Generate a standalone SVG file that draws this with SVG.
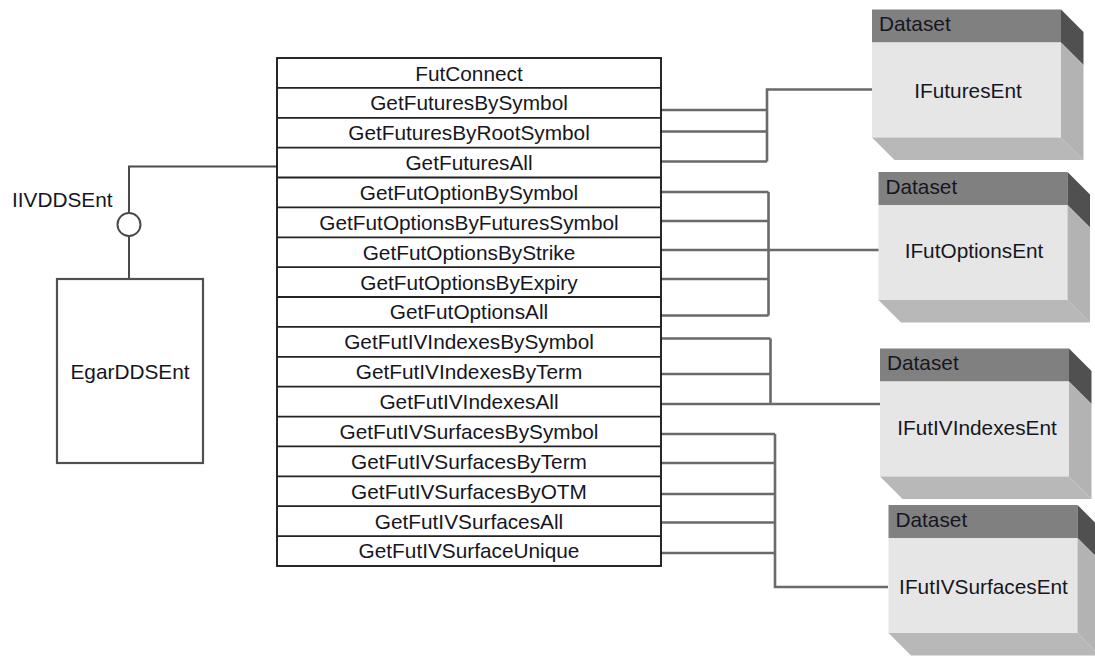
<svg xmlns="http://www.w3.org/2000/svg" width="1095" height="657" viewBox="0 0 1095 657">
<style>
text{font-family:"Liberation Sans",Arial,sans-serif;font-size:20.8px;fill:#161622}
.m{text-anchor:middle}
.tbl{fill:#fff;stroke:#111;stroke-width:1.8}
.sep{stroke:#222;stroke-width:1.8}
.con{fill:none;stroke:#6a6a6a;stroke-width:2.6}
.ifc{fill:none;stroke:#4a4a4a;stroke-width:2}
.box{fill:#fff;stroke:#505050;stroke-width:2.2}
.hdr{fill:#808080}
.body{fill:#e6e6e6}
.sd{fill:#505050}
.sl{fill:#b3b3b3}
.bt{fill:#b8b8b8}
</style>
<defs>
<g id="ds">
<rect class="hdr" x="0" y="0" width="189" height="33"/>
<rect class="body" x="0" y="33" width="189" height="95"/>
<polygon class="sd" points="189,0 211.5,22.5 211.5,55.5 189,33"/>
<polygon class="sl" points="189,33 211.5,55.5 211.5,150.5 189,128"/>
<polygon class="bt" points="0,128 189,128 211.5,150.5 22.5,150.5"/>
<text x="7" y="21.5">Dataset</text>
</g>
</defs>
<g id="connectors">
<path class="ifc" d="M277,166.5 H129 V212.5 M129,236 V279"/>
<circle class="ifc" cx="129" cy="224.5" r="11.5" fill="#fff"/>
<path class="con" d="M661,110 H767 M661,131.5 H767 M661,161.5 H767 M767,161.5 V89.5 H873"/>
<path class="con" d="M661,192 H768.5 M661,221 H768.5 M661,250 H768.5 M661,279 H768.5 M661,315.5 H768.5 M768.5,192 V315.5 M768.5,250 H888"/>
<path class="con" d="M661,338.5 H770.5 M661,374 H770.5 M661,404 H770.5 M770.5,338.5 V404 H881.5"/>
<path class="con" d="M661,434 H775 M661,463 H775 M661,494 H775 M661,522.5 H775 M661,553 H775 M775,434 V587 H888"/>
</g>
<g id="iivddsent-label">
<text x="12" y="206.5">IIVDDSEnt</text>
</g>
<g id="egarddsent">
<rect class="box" x="57" y="279" width="146" height="184"/>
<text class="m" x="130" y="379">EgarDDSEnt</text>
</g>
<g id="methods">
<rect class="tbl" x="277" y="58" width="384" height="508"/>
<path class="sep" d="M277,87.9H661M277,117.8H661M277,147.6H661M277,177.5H661M277,207.4H661M277,237.3H661M277,267.2H661M277,297H661M277,326.9H661M277,356.8H661M277,386.7H661M277,416.6H661M277,446.4H661M277,476.3H661M277,506.2H661M277,536.1H661"/>
<text class="m" x="469" y="80.5">FutConnect</text>
<text class="m" x="469" y="110.3">GetFuturesBySymbol</text>
<text class="m" x="469" y="140.2">GetFuturesByRootSymbol</text>
<text class="m" x="469" y="170">GetFuturesAll</text>
<text class="m" x="469" y="199.9">GetFutOptionBySymbol</text>
<text class="m" x="469" y="229.8">GetFutOptionsByFuturesSymbol</text>
<text class="m" x="469" y="259.7">GetFutOptionsByStrike</text>
<text class="m" x="469" y="289.6">GetFutOptionsByExpiry</text>
<text class="m" x="469" y="319.4">GetFutOptionsAll</text>
<text class="m" x="469" y="349.3">GetFutIVIndexesBySymbol</text>
<text class="m" x="469" y="379.2">GetFutIVIndexesByTerm</text>
<text class="m" x="469" y="409">GetFutIVIndexesAll</text>
<text class="m" x="469" y="438.9">GetFutIVSurfacesBySymbol</text>
<text class="m" x="469" y="468.8">GetFutIVSurfacesByTerm</text>
<text class="m" x="469" y="498.7">GetFutIVSurfacesByOTM</text>
<text class="m" x="469" y="528.6">GetFutIVSurfacesAll</text>
<text class="m" x="469" y="558.4">GetFutIVSurfaceUnique</text>
</g>
<g id="ifuturesent" transform="translate(872,9.5)">
<use href="#ds"/>
<text class="m" x="96" y="88">IFuturesEnt</text>
</g>
<g id="ifutoptionsent" transform="translate(878.5,172)">
<use href="#ds"/>
<text class="m" x="95.5" y="86">IFutOptionsEnt</text>
</g>
<g id="ifutivindexesent" transform="translate(880,348.5)">
<use href="#ds"/>
<text class="m" x="97" y="86">IFutIVIndexesEnt</text>
</g>
<g id="ifutivsurfacesent" transform="translate(888.5,505)">
<use href="#ds"/>
<text class="m" x="95" y="89">IFutIVSurfacesEnt</text>
</g>
</svg>
